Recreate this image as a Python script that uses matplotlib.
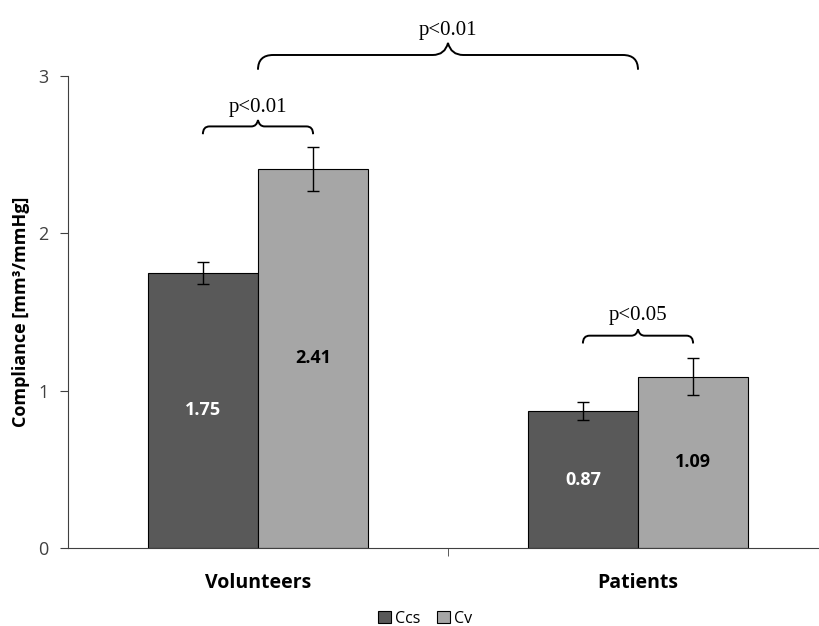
import matplotlib.pyplot as plt
from matplotlib.path import Path
from matplotlib.patches import PathPatch
import numpy as np

groups = ["Volunteers", "Patients"]
series = ["Ccs", "Cv"]
ccs = [1.75, 0.87]
cv = [2.41, 1.09]
ccs_err = [0.07, 0.055]
cv_err = [0.14, 0.12]
p_labels = ["p<0.01", "p<0.05", "p<0.01"]


def brace(ax, x0, x1, y, h, text, ty):
	# curly brace opening downwards, tip in the middle
	xm = (x0 + x1) / 2.0
	w = (x1 - x0)
	c = min(0.06 * w, 0.04)
	verts = [(x0, y), (x0, y + h * 0.55), (x0 + c, y + h * 0.55),
		(xm - c, y + h * 0.55), (xm - c * 0.2, y + h * 0.55), (xm, y + h),
		(xm + c * 0.2, y + h * 0.55), (xm + c, y + h * 0.55),
		(x1 - c, y + h * 0.55), (x1, y + h * 0.55), (x1, y)]
	codes = [Path.MOVETO, Path.CURVE3, Path.CURVE3,
		Path.LINETO, Path.CURVE3, Path.CURVE3,
		Path.CURVE3, Path.CURVE3,
		Path.LINETO, Path.CURVE3, Path.CURVE3]
	ax.add_patch(PathPatch(Path(verts, codes), fill=False, lw=1.4, color="black", clip_on=False))
	ax.text(xm, ty, text, ha="center", va="center", fontsize=15,
		family="Liberation Serif", clip_on=False)


fig = plt.figure(figsize=(8.19, 6.26), dpi=100)
ax = fig.add_axes([0.083, 0.1246, 0.928, 0.754])

x = np.arange(len(groups))
bw = 0.29
ekw = dict(ecolor="black", capsize=4, elinewidth=1, capthick=1)
b1 = ax.bar(x - bw / 2, ccs, bw, yerr=ccs_err, color="#595959", edgecolor="black",
	linewidth=0.8, label=series[0], error_kw=ekw)
b2 = ax.bar(x + bw / 2, cv, bw, yerr=cv_err, color="#a6a6a6", edgecolor="black",
	linewidth=0.8, label=series[1], error_kw=ekw)

for i in range(len(groups)):
	ax.text(x[i] - bw / 2, ccs[i] / 2, "%.2f" % ccs[i], ha="center", va="center",
		color="white", fontsize=13, fontweight="bold", family="Open Sans")
	ax.text(x[i] + bw / 2, cv[i] / 2, "%.2f" % cv[i], ha="center", va="center",
		color="black", fontsize=13, fontweight="bold", family="Open Sans")

brace(ax, x[0] - bw / 2, x[0] + bw / 2, 2.63, 0.09, p_labels[0], 2.80)
brace(ax, x[1] - bw / 2, x[1] + bw / 2, 1.30, 0.09, p_labels[1], 1.48)
brace(ax, x[0], x[1], 3.04, 0.17, p_labels[2], 3.29)

ax.set_xlim(-0.5, 1.5)
ax.set_ylim(0, 3)
ax.set_yticks([0, 1, 2, 3])
ax.tick_params(axis="y", direction="out", length=6, labelsize=13, colors="#404040",
	labelcolor="#404040", pad=8)
for t in ax.get_yticklabels():
	t.set_family("Open Sans")
ax.set_xticks(x)
ax.set_xticklabels(groups, fontsize=14, fontweight="bold", family="Open Sans")
ax.tick_params(axis="x", length=0, pad=18)
ax.set_xticks([0.5], minor=True)
ax.tick_params(axis="x", which="minor", direction="out", length=6, color="#404040")
ax.spines["top"].set_visible(False)
ax.spines["right"].set_visible(False)
ax.spines["left"].set_color("#404040")
ax.spines["bottom"].set_color("#404040")
ax.set_ylabel("Compliance [mm³/mmHg]", fontsize=13, fontweight="bold", family="Open Sans",
	labelpad=6)

ax.legend(loc="center", bbox_to_anchor=(0.47, -0.15), ncol=2, frameon=False,
	handlelength=0.8, handleheight=0.8, handletextpad=0.3, columnspacing=1.0,
	prop={"family": "Open Sans", "size": 11.5})

fig.savefig("out.png", dpi=100)
